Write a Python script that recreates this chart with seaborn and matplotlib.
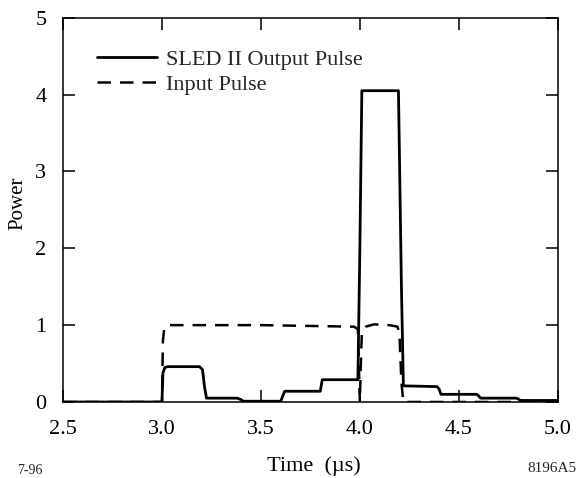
import numpy as np
import pandas as pd
import matplotlib
matplotlib.use("Agg")
import matplotlib.pyplot as plt
import seaborn as sns

# SLED II output pulse (time in microseconds, normalized power)
out_time = [2.50, 3.00, 3.005, 3.015, 3.03, 3.19, 3.205, 3.215, 3.225, 3.38, 3.40, 3.41,
            3.60, 3.62, 3.80, 3.81, 3.99, 4.00, 4.01, 4.195, 4.21, 4.22, 4.39, 4.40, 4.41,
            4.59, 4.60, 4.61, 4.79, 4.80, 4.81, 5.00]
out_power = [0.00, 0.00, 0.38, 0.45, 0.46, 0.46, 0.42, 0.20, 0.05, 0.05, 0.03, 0.01,
             0.01, 0.14, 0.14, 0.29, 0.29, 2.00, 4.05, 4.05, 1.50, 0.21, 0.20, 0.17, 0.10,
             0.10, 0.08, 0.05, 0.05, 0.04, 0.02, 0.02]

# Input pulse
in_time = [2.50, 3.00, 3.005, 3.012, 3.03, 3.50, 3.97, 3.99, 3.995, 4.00, 4.005, 4.01,
           4.03, 4.07, 4.15, 4.19, 4.20, 4.21, 4.22, 5.00]
in_power = [0.00, 0.00, 0.80, 0.97, 1.00, 1.00, 0.98, 0.95, 0.50, 0.00, 0.50, 0.90,
            0.98, 1.01, 1.00, 0.98, 0.90, 0.25, 0.00, 0.00]

x_ticks = [2.5, 3.0, 3.5, 4.0, 4.5, 5.0]
y_ticks = [0, 1, 2, 3, 4, 5]

df_out = pd.DataFrame({"t": out_time, "p": out_power})
df_in = pd.DataFrame({"t": in_time, "p": in_power})

sns.set_theme(style="ticks")
plt.rcParams["font.family"] = ["Liberation Serif", "DejaVu Serif"]

fig = plt.figure(figsize=(5.78, 4.78), dpi=100)
ax = fig.add_axes([0.109, 0.159, 0.856, 0.804])

sns.lineplot(data=df_out, x="t", y="p", ax=ax, sort=False, estimator=None,
             color="black", linewidth=2.0, label="SLED II Output Pulse")
sns.lineplot(data=df_in, x="t", y="p", ax=ax, sort=False, estimator=None,
             color="black", linewidth=1.8, linestyle=(0, (5.4, 3.6)),
             label="Input Pulse")

ax.set_xlim(2.5, 5.0)
ax.set_ylim(0, 5)
ax.set_xticks(x_ticks)
ax.set_xticklabels([f"{v:.1f}" for v in x_ticks])
ax.set_yticks(y_ticks)
ax.set_yticklabels([str(v) for v in y_ticks])
ax.tick_params(direction="in", length=8.5, width=1.1, labelsize=16, color="black",
               top=True, right=True, labelcolor="black")
ax.tick_params(axis="x", pad=13)
ax.tick_params(axis="y", pad=12)
for s in ax.spines.values():
    s.set_linewidth(1.1)
    s.set_color("black")
    s.set_visible(True)

ax.set_xlabel("Time  (µs)", fontsize=16, color="black")
ax.set_ylabel("Power", fontsize=15, color="black")
ax.xaxis.label.set_va("center")
ax.yaxis.label.set_va("center")
ax.xaxis.set_label_coords((314 - 63) / 495, (402 - 466) / 384.5)
ax.yaxis.set_label_coords((18 - 63) / 495, (402 - 203) / 384.5)

leg = ax.legend(loc="upper left", bbox_to_anchor=(0.068, 0.917), frameon=False,
                fontsize=16, handlelength=2.7, handletextpad=0.4, labelspacing=0.2,
                borderpad=0, borderaxespad=0)

fig.text(17 / 578, 1 - 471 / 478, "7-96", fontsize=10, ha="left", va="center")
fig.text(577 / 578, 1 - 469 / 478, "8196A5", fontsize=11, ha="right", va="center")

fig.savefig("out.png", dpi=100, facecolor="white")
